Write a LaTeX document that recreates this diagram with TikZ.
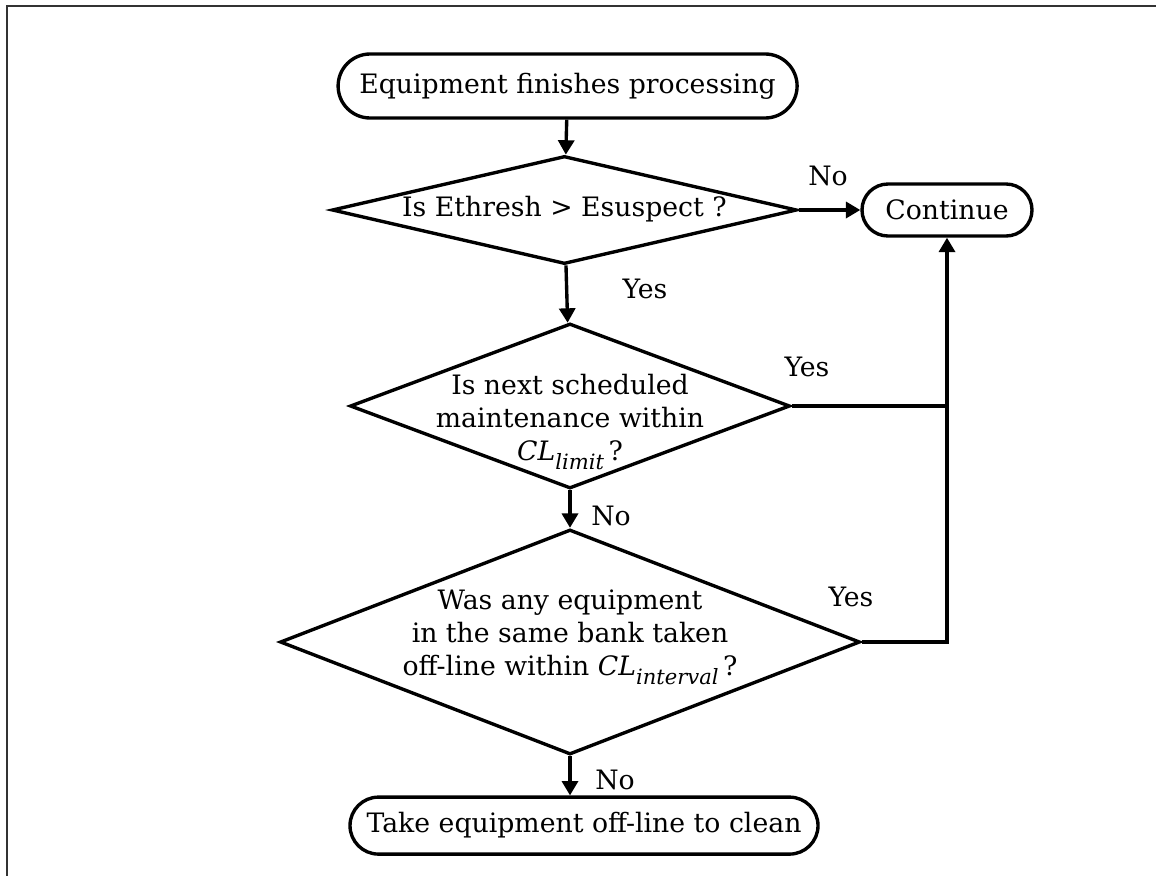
\documentclass[tikz,border=0pt]{standalone}
\usepackage{fontspec}
\setmainfont{DejaVu Serif}
\usepackage{tikz}
\usetikzlibrary{shapes.geometric,shapes.misc,arrows.meta,positioning,calc}

% italic CL with a lowered subscript word
\newcommand{\clsub}[1]{\textit{CL}\raisebox{-0.22cm}{\fontsize{15}{15}\selectfont\itshape #1}}
% centred lines of zero width, so the diamond keeps its own size
\newcommand{\dtext}[2][0pt]{\makebox[0pt]{\raisebox{#1}[\height][\depth]{\begin{tabular}{@{}c@{}}#2\end{tabular}}}}

\begin{document}
\begin{tikzpicture}[
    % --- STYLES ---
    every node/.style={font=\fontsize{19}{23.5}\selectfont},
    terminal/.style={
        rounded rectangle, draw=black, fill=white,
        line width=2.4pt, inner sep=0pt
    },
    decision/.style={
        diamond, draw=black, fill=white,
        line width=2.4pt, inner sep=0pt
    },
    answer/.style={inner sep=0pt},
    control/.style={-{Triangle[length=0.36cm, width=0.4cm]}, line width=2.4pt},
    link/.style={line width=2.4pt},
    frame/.style={line width=1.4pt, draw=black!80}
]

% ===== 1. PAGE & FRAME =====
\useasboundingbox (0,0) rectangle (28.9,-21.875);
\draw[frame] (0.175,-22) |- (29,-0.15);

% ===== 2. MAIN COLUMN =====
\node[terminal, minimum width=11.475cm, minimum height=1.6cm] (start) at (14.19,-2.15)
    {Equipment finishes processing};

\node[decision, minimum width=11.625cm, minimum height=2.7cm] (dec1) at (14.11,-5.25)
    {\dtext{Is Ethresh > Esuspect ?}};

\node[decision, minimum width=11cm, minimum height=4.125cm] (dec2) at (14.25,-10.15)
    {\dtext[-0.37cm]{Is next scheduled\\ maintenance within\\ \clsub{limit}\,?}};

\node[decision, minimum width=14.5cm, minimum height=5.625cm] (dec3) at (14.25,-16.05)
    {\dtext[0.15cm]{Was any equipment\\ in the same bank taken\\ off-line within \clsub{interval}\,?}};

\node[terminal, minimum width=11.7cm, minimum height=1.425cm] (clean) at (14.6,-20.64)
    {Take equipment off-line to clean};

% right-hand exit
\node[terminal, minimum width=4.25cm, minimum height=1.3cm] (cont) at (23.675,-5.25) {Continue};

% ===== 3. ANSWERS =====
\node[answer] (no1) at (20.7,-4.4) {No};
\node[answer] (yes1) at (16.125,-7.225) {Yes};
\node[answer] (yes2) at (20.175,-9.175) {Yes};
\node[answer] (no2) at (15.275,-12.9) {No};
\node[answer] (yes3) at (21.275,-14.925) {Yes};
\node[answer] (no3) at (15.375,-19.5) {No};

% ===== 4. CONNECTIONS =====
\draw[control] (start) -- (dec1);
\draw[control] (dec1) -- (cont);
\draw[control] (dec1) -- (dec2);
\draw[control] (dec2) -- (dec3);
\draw[control] (dec3.south) -- (dec3.south |- clean.north);

% both "Yes" branches go back up to Continue
\draw[link] (dec2.east) -- (dec2.east -| cont.south);
\draw[control] (dec3.east) -| (cont.south);

\end{tikzpicture}
\end{document}
